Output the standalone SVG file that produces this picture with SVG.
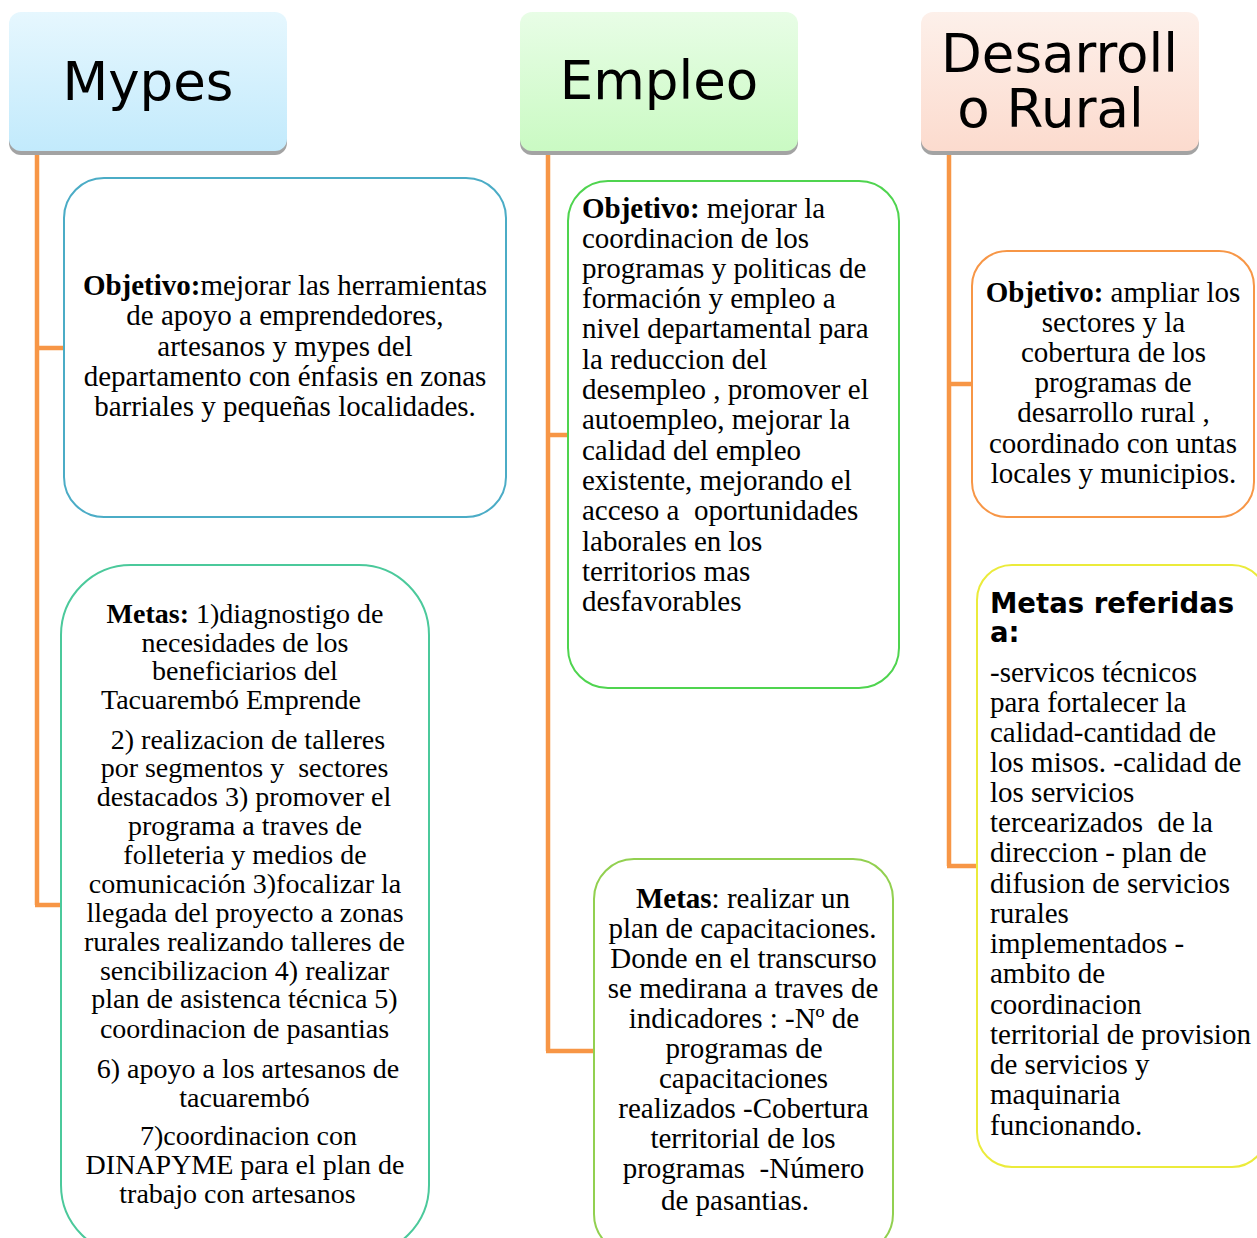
<svg xmlns="http://www.w3.org/2000/svg" width="1257" height="1238" viewBox="0 0 1257 1238">
<defs>
<linearGradient id="gBlue" x1="0" y1="0" x2="0" y2="1"><stop offset="0" stop-color="#e6f7fe"/><stop offset="1" stop-color="#c2eafc"/></linearGradient>
<linearGradient id="gGreen" x1="0" y1="0" x2="0" y2="1"><stop offset="0" stop-color="#e8fde6"/><stop offset="1" stop-color="#cafac3"/></linearGradient>
<linearGradient id="gPeach" x1="0" y1="0" x2="0" y2="1"><stop offset="0" stop-color="#fdf0ea"/><stop offset="1" stop-color="#fcdbce"/></linearGradient>
</defs>
<style>
.shadow{fill:#a3a3a3}
.head{font-family:"DejaVu Sans",sans-serif;font-size:53px;fill:#000;text-anchor:middle}
.box{fill:#fff;stroke-width:2}
.t{font-family:"Liberation Serif","Times New Roman",serif;font-size:29px;fill:#000}
.s{font-size:28px}
.c{text-anchor:middle}
.b{font-weight:bold}
.conn{fill:none;stroke:#f79646;stroke-width:4.5}
.mt{font-family:"DejaVu Sans",sans-serif;font-size:27.5px;font-weight:bold;fill:#000}
</style>

<g id="connectors">
<path class="conn" d="M37,150 V905 M35,348 H65 M35,905 H62"/>
<path class="conn" d="M548,150 V1051 M546,435 H569 M546,1051 H595"/>
<path class="conn" d="M949,150 V866 M947,384 H973 M947,866 H978"/>
</g>

<g id="mypes">
<rect class="shadow" x="9" y="16" width="278" height="139" rx="12"/>
<rect x="9" y="12" width="278" height="139" rx="12" fill="url(#gBlue)"/>
<text class="head" x="148" y="100">Mypes</text>
</g>

<g id="empleo">
<rect class="shadow" x="520" y="16" width="278" height="139" rx="12"/>
<rect x="520" y="12" width="278" height="139" rx="12" fill="url(#gGreen)"/>
<text class="head" x="659" y="99">Empleo</text>
</g>

<g id="desarrollo-rural">
<rect class="shadow" x="921" y="16" width="278" height="139" rx="12"/>
<rect x="921" y="12" width="278" height="139" rx="12" fill="url(#gPeach)"/>
<text class="head" x="1059.5" y="72">Desarroll</text>
<text class="head" x="1050.5" y="127">o Rural</text>
</g>

<g id="mypes-objetivo">
<rect class="box" x="64" y="178" width="442" height="339" rx="40" stroke="#4bacc6"/>
<text class="t c" x="285" y="295"><tspan class="b">Objetivo:</tspan>mejorar las herramientas</text>
<text class="t c" x="285" y="325">de apoyo a emprendedores,</text>
<text class="t c" x="285" y="356">artesanos y mypes del</text>
<text class="t c" x="285" y="386">departamento con énfasis en zonas</text>
<text class="t c" x="285" y="416">barriales y pequeñas localidades.</text>
</g>

<g id="mypes-metas">
<rect class="box" x="61" y="565" width="368" height="690" rx="70" stroke="#4bc99b"/>
<text class="t s c" x="245" y="623"><tspan class="b">Metas:</tspan> 1)diagnostigo de</text>
<text class="t s c" x="245" y="652">necesidades de los</text>
<text class="t s c" x="245" y="680">beneficiarios del</text>
<text class="t s c" x="231" y="709">Tacuarembó Emprende</text>
<text class="t s c" x="248" y="749">2) realizacion de talleres</text>
<text class="t s c" x="244.5" y="777" xml:space="preserve">por segmentos y  sectores</text>
<text class="t s c" x="244" y="806">destacados 3) promover el</text>
<text class="t s c" x="245" y="835">programa a traves de</text>
<text class="t s c" x="245" y="864">folleteria y medios de</text>
<text class="t s c" x="245" y="893">comunicación 3)focalizar la</text>
<text class="t s c" x="245" y="922">llegada del proyecto a zonas</text>
<text class="t s c" x="244.5" y="951">rurales realizando talleres de</text>
<text class="t s c" x="244.5" y="980">sencibilizacion 4) realizar</text>
<text class="t s c" x="244.5" y="1008">plan de asistenca técnica 5)</text>
<text class="t s c" x="244.5" y="1038">coordinacion de pasantias</text>
<text class="t s c" x="248" y="1078">6) apoyo a los artesanos de</text>
<text class="t s c" x="244.5" y="1107">tacuarembó</text>
<text class="t s c" x="248.5" y="1145">7)coordinacion con</text>
<text class="t s c" x="245" y="1174">DINAPYME para el plan de</text>
<text class="t s c" x="237.5" y="1203">trabajo con artesanos</text>
</g>

<g id="empleo-objetivo">
<rect class="box" x="568" y="181" width="331" height="507" rx="40" stroke="#4fd44f"/>
<text class="t" x="582" y="218"><tspan class="b">Objetivo:</tspan> mejorar la</text>
<text class="t" x="582" y="248">coordinacion de los</text>
<text class="t" x="582" y="278">programas y politicas de</text>
<text class="t" x="582" y="308">formación y empleo a</text>
<text class="t" x="582" y="338">nivel departamental para</text>
<text class="t" x="582" y="369">la reduccion del</text>
<text class="t" x="582" y="399">desempleo , promover el</text>
<text class="t" x="582" y="429">autoempleo, mejorar la</text>
<text class="t" x="582" y="460">calidad del empleo</text>
<text class="t" x="582" y="490">existente, mejorando el</text>
<text class="t" x="582" y="520" xml:space="preserve">acceso a  oportunidades</text>
<text class="t" x="582" y="551">laborales en los</text>
<text class="t" x="582" y="581">territorios mas</text>
<text class="t" x="582" y="611">desfavorables</text>
</g>

<g id="empleo-metas">
<rect class="box" x="594" y="859" width="299" height="395" rx="40" stroke="#92d050"/>
<text class="t c" x="743" y="908"><tspan class="b">Metas</tspan>: realizar un</text>
<text class="t c" x="742.5" y="938">plan de capacitaciones.</text>
<text class="t c" x="743.5" y="968">Donde en el transcurso</text>
<text class="t c" x="743" y="998">se medirana a traves de</text>
<text class="t c" x="744" y="1028">indicadores : -Nº de</text>
<text class="t c" x="744" y="1058">programas de</text>
<text class="t c" x="743.5" y="1088">capacitaciones</text>
<text class="t c" x="743.5" y="1118">realizados -Cobertura</text>
<text class="t c" x="743" y="1148">territorial de los</text>
<text class="t c" x="743.5" y="1178" xml:space="preserve">programas  -Número</text>
<text class="t c" x="735" y="1210">de pasantias.</text>
</g>

<g id="desarrollo-objetivo">
<rect class="box" x="972" y="251" width="282" height="266" rx="35" stroke="#f79646"/>
<text class="t c" x="1113" y="302"><tspan class="b">Objetivo:</tspan> ampliar los</text>
<text class="t c" x="1113.5" y="332">sectores y la</text>
<text class="t c" x="1113.5" y="362">cobertura de los</text>
<text class="t c" x="1113" y="392">programas de</text>
<text class="t c" x="1113.5" y="422">desarrollo rural ,</text>
<text class="t c" x="1113" y="453">coordinado con untas</text>
<text class="t c" x="1113.5" y="483">locales y municipios.</text>
</g>

<g id="desarrollo-metas">
<rect class="box" x="977" y="565" width="290" height="602" rx="35" stroke="#ebeb3b"/>
<text class="mt" x="990" y="613">Metas referidas</text>
<text class="mt" x="990" y="642">a:</text>
<text class="t" x="990" y="682">-servicos técnicos</text>
<text class="t" x="990" y="712">para fortalecer la</text>
<text class="t" x="990" y="742">calidad-cantidad de</text>
<text class="t" x="990" y="772">los misos. -calidad de</text>
<text class="t" x="990" y="802">los servicios</text>
<text class="t" x="990" y="832" xml:space="preserve">tercearizados  de la</text>
<text class="t" x="990" y="862">direccion - plan de</text>
<text class="t" x="990" y="893">difusion de servicios</text>
<text class="t" x="990" y="923">rurales</text>
<text class="t" x="990" y="953">implementados -</text>
<text class="t" x="990" y="983">ambito de</text>
<text class="t" x="990" y="1014">coordinacion</text>
<text class="t" x="990" y="1044">territorial de provision</text>
<text class="t" x="990" y="1074">de servicios y</text>
<text class="t" x="990" y="1104">maquinaria</text>
<text class="t" x="990" y="1135">funcionando.</text>
</g>
</svg>
